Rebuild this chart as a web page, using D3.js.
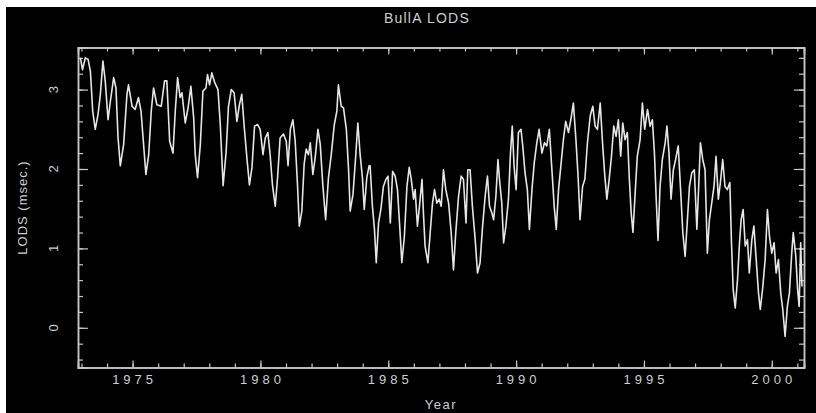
<!DOCTYPE html>
<html>
<head>
<meta charset="utf-8">
<script src="https://cdn.jsdelivr.net/npm/d3@7"></script>
<style>
  body { margin: 0; background: #fff; }
  text { font-family: "Liberation Sans", Arial, sans-serif; fill: #cfcfcf; }
</style>
</head>
<body>
<div id="viz"></div>
<script>
// BullA LODS (year, msec)
var years = [
  1972.96,1973.04,1973.15,1973.26,1973.35,1973.44,1973.54,1973.65,1973.74,1973.84,1973.93,
  1974.04,1974.13,1974.26,1974.35,1974.43,1974.52,1974.65,1974.78,1974.84,1974.98,
  1975.10,1975.23,1975.33,1975.43,1975.52,1975.63,1975.73,1975.82,1975.95,
  1976.12,1976.25,1976.34,1976.45,1976.58,1976.67,1976.76,1976.86,1976.93,
  1977.06,1977.17,1977.28,1977.39,1977.45,1977.54,1977.65,1977.75,1977.87,1977.93,
  1978.01,1978.10,1978.21,1978.34,1978.43,1978.54,1978.66,1978.75,1978.86,1978.97,
  1979.08,1979.18,1979.27,1979.37,1979.47,1979.57,1979.67,1979.77,1979.89,1979.99,
  1980.10,1980.19,1980.29,1980.38,1980.47,1980.58,1980.67,1980.77,1980.90,
  1981.01,1981.08,1981.17,1981.27,1981.36,1981.45,1981.52,1981.62,1981.71,1981.79,1981.88,1981.95,
  1982.05,1982.14,1982.25,1982.34,1982.44,1982.55,1982.66,1982.77,1982.89,1982.99,
  1983.05,1983.16,1983.25,1983.36,1983.45,1983.51,1983.62,1983.73,1983.81,1983.90,1983.99,
  1984.06,1984.16,1984.25,1984.29,1984.38,1984.46,1984.53,1984.62,1984.71,1984.81,1984.91,1984.99,
  1985.08,1985.17,1985.27,1985.36,1985.44,1985.53,1985.63,1985.73,1985.82,1985.90,1985.99,
  1986.05,1986.14,1986.22,1986.32,1986.38,1986.44,1986.55,1986.64,1986.73,1986.81,1986.90,1986.99,
  1987.07,1987.16,1987.25,1987.36,1987.46,1987.55,1987.64,1987.75,1987.85,1987.94,
  1988.04,1988.11,1988.20,1988.29,1988.40,1988.49,1988.59,1988.68,1988.79,1988.88,1988.96,
  1989.05,1989.12,1989.21,1989.29,1989.35,1989.44,1989.51,1989.60,1989.70,1989.78,1989.85,1989.92,
  1990.00,1990.09,1990.19,1990.26,1990.35,1990.44,1990.52,1990.62,1990.71,1990.81,1990.90,
  1991.01,1991.11,1991.20,1991.30,1991.40,1991.49,1991.57,1991.66,1991.75,1991.85,1991.94,
  1992.05,1992.14,1992.24,1992.34,1992.43,1992.50,1992.60,1992.69,1992.79,1992.90,
  1993.00,1993.09,1993.18,1993.29,1993.38,1993.47,1993.55,1993.64,1993.73,1993.82,1993.91,
  1994.00,1994.09,1994.17,1994.26,1994.35,1994.43,1994.50,1994.57,1994.65,1994.74,1994.85,1994.94,
  1995.03,1995.14,1995.24,1995.33,1995.41,1995.48,1995.55,1995.63,1995.72,1995.83,1995.90,1995.98,
  1996.06,1996.15,1996.24,1996.34,1996.44,1996.52,1996.61,1996.70,1996.78,1996.87,1996.97,
  1997.07,1997.13,1997.21,1997.30,1997.39,1997.48,1997.56,1997.65,1997.74,1997.82,1997.91,1997.99,
  1998.08,1998.17,1998.26,1998.36,1998.42,1998.49,1998.57,1998.66,1998.73,1998.80,1998.88,1998.96,
  1999.05,1999.12,1999.22,1999.30,1999.39,1999.48,1999.55,1999.65,1999.74,1999.83,1999.91,
  2000.00,2000.09,2000.17,2000.26,2000.35,2000.43,2000.52,2000.61,2000.69,2000.78,2000.84,2000.94,
  2001.01,2001.07,2001.13,2001.18
];
var lods = [
  3.40,3.25,3.40,3.38,3.23,2.73,2.50,2.69,2.94,3.36,3.11,
  2.62,2.85,3.15,3.02,2.40,2.04,2.31,2.94,3.06,2.79,
  2.75,2.90,2.73,2.31,1.93,2.18,2.73,3.02,2.81,
  2.79,3.11,3.11,2.35,2.20,2.73,3.15,2.90,2.96,
  2.58,2.77,3.04,2.64,2.18,1.89,2.31,2.98,3.02,3.19,
  3.06,3.21,3.09,3.00,2.56,1.79,2.22,2.79,3.00,2.96,
  2.60,2.81,2.94,2.52,2.14,1.80,2.02,2.54,2.56,2.50,
  2.18,2.39,2.46,2.18,1.80,1.53,1.89,2.39,2.44,
  2.35,2.04,2.50,2.62,2.35,1.80,1.28,1.47,2.06,2.25,2.18,2.33,
  1.93,2.14,2.50,2.31,1.80,1.36,1.89,2.18,2.56,2.73,
  3.06,2.79,2.77,2.50,1.97,1.47,1.68,2.18,2.58,2.18,1.89,
  1.49,1.89,2.04,2.04,1.53,1.24,0.82,1.32,1.49,1.78,1.87,1.91,
  1.32,1.97,1.91,1.74,1.32,0.82,1.15,1.78,2.02,1.87,1.62,
  1.74,1.28,1.53,1.87,1.41,1.03,0.82,1.20,1.57,1.74,1.57,1.62,
  1.53,1.99,1.74,1.57,1.20,0.73,1.20,1.66,1.91,1.87,
  1.32,1.99,1.99,1.53,1.11,0.69,0.82,1.24,1.66,1.91,1.53,
  1.45,1.36,1.66,2.12,1.87,1.57,1.07,1.28,1.62,2.20,2.54,2.04,
  1.74,2.46,2.50,2.29,1.95,1.74,1.24,1.74,2.08,2.33,2.50,
  2.20,2.33,2.29,2.50,1.99,1.53,1.24,1.74,2.04,2.37,2.60,
  2.46,2.62,2.83,2.37,1.87,1.36,1.78,1.87,2.33,2.67,
  2.79,2.54,2.50,2.83,2.33,1.91,1.62,1.87,2.16,2.54,2.41,
  2.62,2.16,2.58,2.37,2.46,1.87,1.45,1.20,1.66,2.16,2.37,2.83,
  2.50,2.75,2.54,2.62,2.20,1.62,1.10,1.78,2.12,2.33,2.54,2.20,
  1.62,1.99,2.12,2.29,1.70,1.20,0.90,1.36,1.78,1.95,1.99,
  1.24,1.70,2.33,2.12,1.99,0.94,1.36,1.57,1.78,2.16,1.62,1.83,
  2.12,1.78,1.74,1.83,1.11,0.48,0.25,0.61,1.03,1.36,1.49,1.03,
  1.11,0.69,1.11,1.28,0.86,0.44,0.23,0.52,0.86,1.49,1.15,
  0.94,1.07,0.69,0.86,0.44,0.23,-0.11,0.27,0.44,0.94,1.20,0.90,
  0.48,0.27,1.07,0.52
];
var xTicks = [1975, 1980, 1985, 1990, 1995, 2000];
var yTicks = [0, 1, 2, 3];

var width = 816,
    height = 413;

var svg = d3.select('#viz').append('svg')
  .attr("width", width)
  .attr("height", height)

// black picture area with thin white edge top/left like the original
svg.append('rect')
  .attr('x', 6).attr('y', 7)
  .attr('width', width - 6).attr('height', height - 7)
  .attr('fill', '#000')

var plotL = 78, plotR = 804, plotT = 47.5, plotB = 367.5;

var x = d3.scaleLinear()
  .domain([1972.865, 2001.26])
  .range([plotL, plotR])

var y = d3.scaleLinear()
  .domain([-0.5, 3.53])
  .range([plotB, plotT])

var axisColor = '#c8c8c8';

// minor + major ticks, all pointing inward
var xMinor = d3.range(1973, 2002, 1);
var yMinor = d3.range(-0.4, 3.55, 0.2).map(function(d){ return Math.round(d*10)/10 });

svg.append('g').attr('transform', 'translate(0,' + plotB + ')')
  .call(d3.axisBottom(x).tickValues(xMinor).tickSize(-4).tickFormat(''))
svg.append('g').attr('transform', 'translate(0,' + plotT + ')')
  .call(d3.axisTop(x).tickValues(xMinor).tickSize(-4).tickFormat(''))
svg.append('g').attr('transform', 'translate(' + plotL + ',0)')
  .call(d3.axisLeft(y).tickValues(yMinor).tickSize(-5).tickFormat(''))
svg.append('g').attr('transform', 'translate(' + plotR + ',0)')
  .call(d3.axisRight(y).tickValues(yMinor).tickSize(-5).tickFormat(''))

svg.append('g').attr('transform', 'translate(0,' + plotB + ')')
  .call(d3.axisBottom(x).tickValues(xTicks).tickSize(-7).tickFormat(''))
svg.append('g').attr('transform', 'translate(0,' + plotT + ')')
  .call(d3.axisTop(x).tickValues(xTicks).tickSize(-7).tickFormat(''))
svg.append('g').attr('transform', 'translate(' + plotL + ',0)')
  .call(d3.axisLeft(y).tickValues(yTicks).tickSize(-10).tickFormat(''))
svg.append('g').attr('transform', 'translate(' + plotR + ',0)')
  .call(d3.axisRight(y).tickValues(yTicks).tickSize(-10).tickFormat(''))

svg.selectAll('.domain').attr('stroke', axisColor).attr('stroke-width', 1.5)
svg.selectAll('.tick line').attr('stroke', axisColor).attr('stroke-width', 1.2)

// tick labels
svg.selectAll('.xlab')
  .data(xTicks)
  .enter()
  .append('text')
  .attr('class', 'xlab')
  .attr('x', function(d){ return x(d) + 2 })
  .attr('y', 384)
  .attr('text-anchor', 'middle')
  .style('font-size', '13px')
  .style('letter-spacing', '4px')
  .text(function(d){ return d })

svg.selectAll('.ylab')
  .data(yTicks)
  .enter()
  .append('text')
  .attr('class', 'ylab')
  .attr('transform', function(d){ return 'translate(58,' + y(d) + ') rotate(-90)' })
  .attr('text-anchor', 'middle')
  .style('font-size', '13px')
  .text(function(d){ return d })

// titles
svg.append('text')
  .attr('x', 427)
  .attr('y', 23)
  .attr('text-anchor', 'middle')
  .style('font-size', '14px')
  .style('letter-spacing', '1.2px')
  .text('BullA LODS')

svg.append('text')
  .attr('x', 441)
  .attr('y', 409)
  .attr('text-anchor', 'middle')
  .style('font-size', '13px')
  .style('letter-spacing', '1.5px')
  .text('Year')

svg.append('text')
  .attr('transform', 'translate(27,' + (plotT + plotB)/2 + ') rotate(-90)')
  .attr('text-anchor', 'middle')
  .style('font-size', '13px')
  .style('letter-spacing', '1px')
  .text('LODS (msec.)')

// the series
var series = years.map(function(d, i){ return {year: d, v: lods[i]} });

var line = d3.line()
  .x(function(d){ return x(d.year) })
  .y(function(d){ return y(d.v) })

svg.append('path')
  .datum(series)
  .attr('d', line)
  .attr('fill', 'none')
  .attr('stroke', '#e6e6e6')
  .attr('stroke-width', 1.6)
  .attr('stroke-linejoin', 'round')
</script>
</body>
</html>
